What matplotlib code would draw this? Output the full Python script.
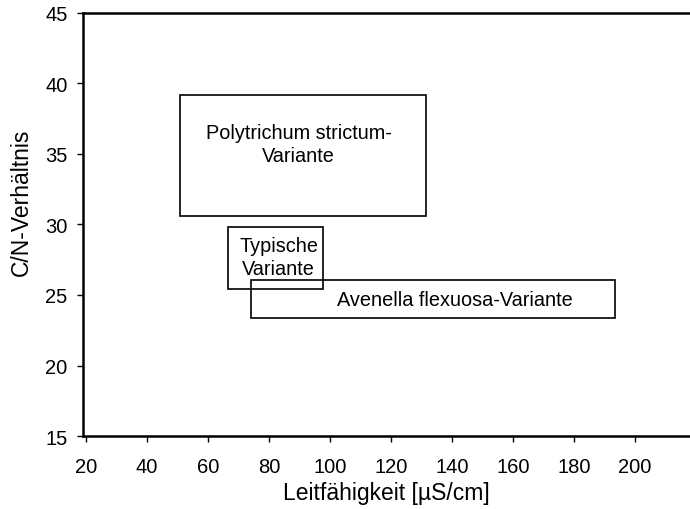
import matplotlib
matplotlib.use("Agg")
import matplotlib.pyplot as plt
from matplotlib.patches import Rectangle

plt.rcParams['font.family'] = ['Liberation Sans', 'DejaVu Sans']

# variant boxes: (x_min, x_max, y_min, y_max)
names = ["Polytrichum strictum-\nVariante", "Typische\nVariante", "Avenella flexuosa-Variante"]
x_min = [50.7, 66.7, 74.0]
x_max = [131.4, 97.8, 193.4]
y_min = [30.6, 25.4, 23.4]
y_max = [39.2, 29.85, 26.05]
# label centres
lab_x = [89.7, 83.2, 141.1]
lab_y = [35.7, 27.7, 24.7]

xticks = [20, 40, 60, 80, 100, 120, 140, 160, 180, 200]
yticks = [15, 20, 25, 30, 35, 40, 45]

fig = plt.figure(figsize=(6.9, 5.1), dpi=100)
ax = fig.add_axes([0.120, 0.143, 0.880, 0.830])

for i in range(len(names)):
    ax.add_patch(Rectangle((x_min[i], y_min[i]), x_max[i] - x_min[i], y_max[i] - y_min[i],
                           fill=False, edgecolor='black', linewidth=1.2))
    ax.text(lab_x[i], lab_y[i], names[i], ha='center', va='center', fontsize=14.3,
            linespacing=1.22)

ax.set_xlim(19, 218)
ax.set_ylim(15, 45)
ax.set_xticks(xticks)
ax.set_yticks(yticks)
ax.tick_params(axis='x', labelsize=14.5, length=4, width=1, pad=11)
ax.tick_params(axis='y', labelsize=14.5, length=4, width=1, pad=7)
ax.spines['right'].set_visible(False)
for s in ['left', 'bottom', 'top']:
    ax.spines[s].set_linewidth(1.8)

ax.set_xlabel("Leitfähigkeit [µS/cm]", fontsize=16.5, labelpad=4)
ax.set_ylabel("C/N-Verhältnis", fontsize=16.5, labelpad=9, y=0.554)

fig.savefig("out.png", dpi=100)
